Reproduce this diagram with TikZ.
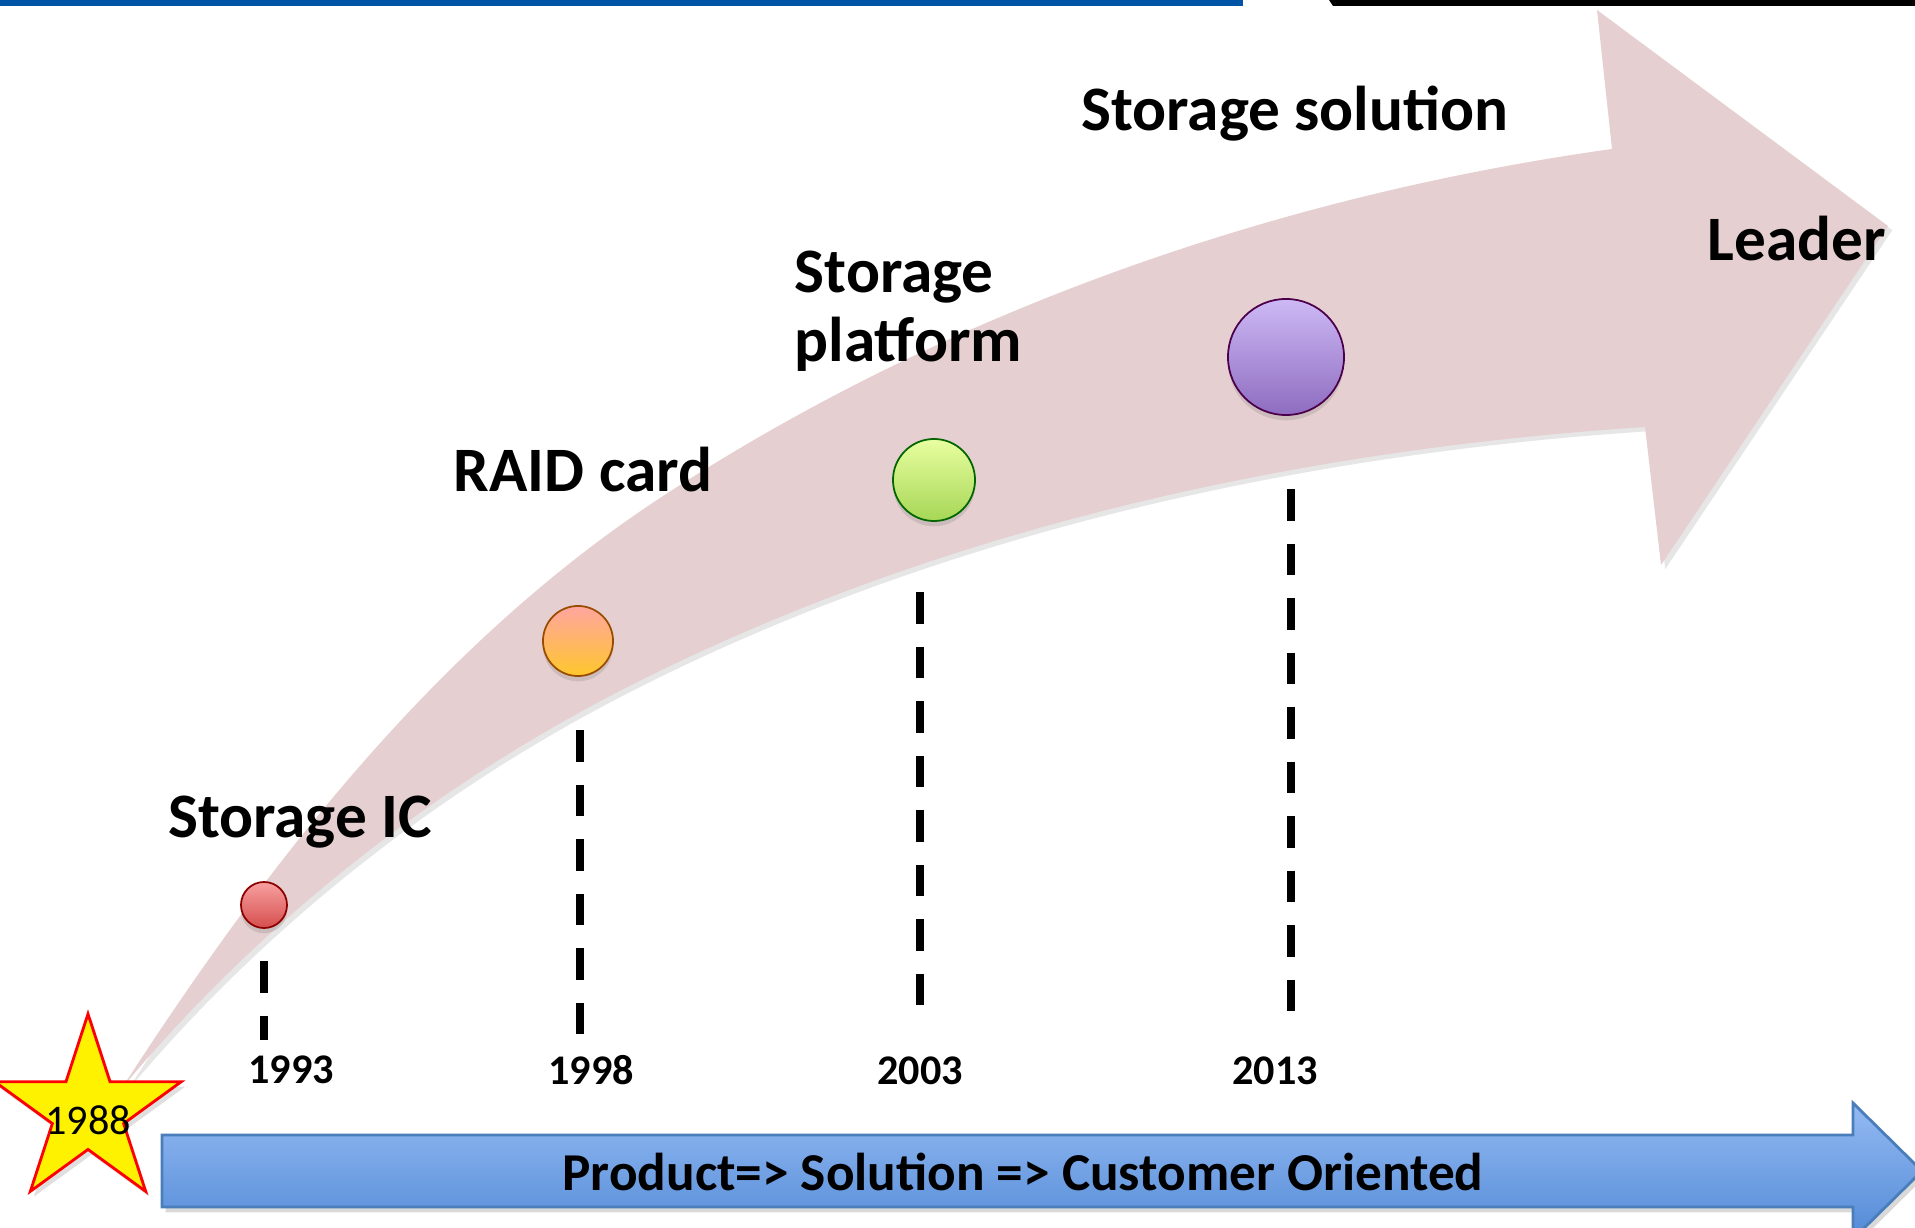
\documentclass[tikz,border=0pt]{standalone}
\usepackage{fontspec}
\setmainfont{Carlito}
\usetikzlibrary{shapes.geometric,shadows}

\definecolor{band}{RGB}{230,207,208}
\definecolor{rule}{RGB}{0,84,166}
\definecolor{bartop}{RGB}{148,186,243}
\definecolor{barbot}{RGB}{82,138,214}
\definecolor{barline}{RGB}{74,126,187}

\begin{document}
\begin{tikzpicture}[
			x=0.01cm, y=-0.01cm,
			ball/.style = {circle, inner sep=0pt, line width=0.5pt, shading=axis,
				drop shadow={opacity=0.25, shadow xshift=0pt, shadow yshift=-1.5pt}},
			lbl/.style = {inner sep=0pt, font=\bfseries\fontsize{18}{19.6}\selectfont},
			yr/.style = {inner sep=0pt, font=\bfseries\fontsize{12}{14}\selectfont},
			tick/.style = {line width=2.3pt, dash pattern=on 9pt off 6.5pt}
		]
		\useasboundingbox (0,0) rectangle (1915,1228);
		% rules along the top edge
		\fill[rule] (0,0) rectangle (1243,6);
		\fill[black] (1329,0) -- (1915,0) -- (1915,6) -- (1333,6) -- cycle;
		% the big curved arrow
		\fill[band, drop shadow={opacity=0.2, shadow xshift=1.2pt, shadow yshift=-1.2pt}]
			(122,1088) .. controls (266,865) and (436,646) .. (657,500)
			.. controls (941,313) and (1275,196) .. (1612,149)
			-- (1597,10) -- (1888,226) -- (1661,565) -- (1645,427)
			.. controls (1291,450) and (927,531) .. (612,695)
			.. controls (426,792) and (256,927) .. (122,1088) -- cycle;
		\node[ball, minimum size=0.46cm, draw=red!55!black, top color={rgb,255:red,248;green,160;blue,160}, bottom color={rgb,255:red,214;green,78;blue,78}] (1) at (264,905) {};
		\node[ball, minimum size=0.70cm, draw=orange!60!black, top color={rgb,255:red,255;green,165;blue,160}, bottom color={rgb,255:red,255;green,199;blue,44}] (2) at (578,641) {};
		\node[ball, minimum size=0.82cm, draw=green!40!black, top color={rgb,255:red,232;green,255;blue,160}, bottom color={rgb,255:red,166;green,214;blue,86}] (3) at (934,480) {};
		\node[ball, minimum size=1.16cm, draw=violet!60!black, top color={rgb,255:red,205;green,185;blue,245}, bottom color={rgb,255:red,142;green,108;blue,192}] (4) at (1286,357) {};
		\node[lbl] (l1) at (300,822) {Storage IC};
		\node[lbl] (l2) at (583,470) {RAID card};
		\node[lbl, anchor=west, align=left] (l3) at (794,311) {Storage\\platform};
		\node[lbl] (l4) at (1295,114) {Storage solution};
		\node[lbl] (l5) at (1797,239) {Leader};
		% year marks
		\node[yr] (y1) at (291,1070) {1993};
		\node[yr] (y2) at (591,1070) {1998};
		\node[yr] (y3) at (920,1071) {2003};
		\node[yr] (y4) at (1275,1071) {2013};
		\coordinate (t1) at (264,961);  \coordinate (b1) at (264,1040);
		\coordinate (t2) at (580,730);  \coordinate (b2) at (580,1036);
		\coordinate (t3) at (920,592);  \coordinate (b3) at (920,1016);
		\coordinate (t4) at (1291,489); \coordinate (b4) at (1291,1023);
		\draw[tick] (t1) -- (b1);
		\draw[tick] (t2) -- (b2);
		\draw[tick] (t3) -- (b3);
		\draw[tick] (t4) -- (b4);
		% bottom arrow
		\shade[top color=bartop, bottom color=barbot, draw=barline, line width=0.8pt,
			drop shadow={opacity=0.3, shadow xshift=1pt, shadow yshift=-1.5pt}]
			(162,1135) -- (1853,1135) -- (1853,1103) -- (1922,1171) -- (1853,1239)
			-- (1853,1207) -- (162,1207) -- cycle;
		\node[inner sep=0pt, font=\bfseries\fontsize{15.15}{18}\selectfont] (bar) at (1023,1172) {Product=> Solution => Customer Oriented};
		% start
		\node[star, star points=5, star point ratio=2.618, minimum size=1.96cm, inner sep=0pt,
			fill=yellow, draw=red, line width=0.8pt,
			drop shadow={opacity=0.25, shadow xshift=1pt, shadow yshift=-1.5pt}] (s) at (88,1112) {};
		\node[inner sep=0pt, font=\fontsize{12}{14}\selectfont] (y0) at (88,1120) {1988};
	\end{tikzpicture}
\end{document}
